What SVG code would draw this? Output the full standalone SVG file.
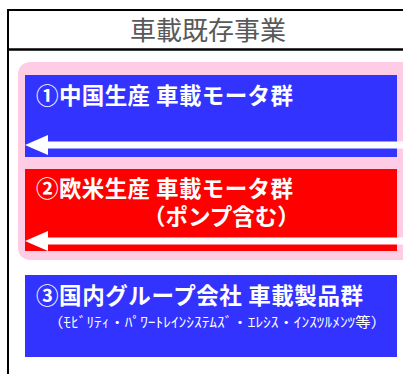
<svg xmlns="http://www.w3.org/2000/svg" width="403" height="374" viewBox="0 0 403 374">
<style>
.lbl{font-family:"Noto Sans CJK JP","Noto Sans",sans-serif;font-weight:bold;font-size:22.5px;fill:#FFFFFF}
.sub{font-family:"Noto Sans CJK JP","Noto Sans",sans-serif;font-size:14px;fill:#FFFFFF}
.title{font-family:"Noto Sans CJK JP","Noto Sans",sans-serif;font-size:26px;fill:#595959}
.arrow{stroke:#FFFFFF;stroke-width:7;fill:none}
</style>
<defs>
<marker id="ah" markerUnits="userSpaceOnUse" markerWidth="23" markerHeight="20" viewBox="0 0 23 20" refX="1" refY="10" orient="auto">
<path d="M0,0 L23,10 L0,20 z" fill="#FFFFFF"/>
</marker>
</defs>
<rect width="403" height="374" fill="#FFFFFF"/>
<g id="frame">
<rect x="8" y="10" width="420" height="380" fill="none" stroke="#000000" stroke-width="2"/>
<line x1="8" y1="49.5" x2="403" y2="49.5" stroke="#000000" stroke-width="2.5"/>
<text class="title" x="208" y="40" text-anchor="middle">車載既存事業</text>
</g>
<g id="group-existing">
<rect x="18" y="62" width="420" height="198" rx="12" ry="12" fill="#FFCCE5"/>
</g>
<g id="node1">
<rect x="25" y="75" width="372" height="82" fill="#3333FF"/>
<text class="lbl" x="36" y="104" textLength="257" lengthAdjust="spacing">①中国生産 車載モータ群</text>
</g>
<g id="node2">
<rect x="25" y="169" width="372" height="82" fill="#FF0000"/>
<text class="lbl" x="36" y="197" textLength="257" lengthAdjust="spacing">②欧米生産 車載モータ群</text>
<text class="lbl" x="143" y="225">（ポンプ含む）</text>
</g>
<g id="node3">
<rect x="25" y="275" width="372" height="82" fill="#3333FF"/>
<text class="lbl" x="36" y="304" textLength="327" lengthAdjust="spacing">③国内グループ会社 車載製品群</text>
<text class="sub" x="48" y="327" textLength="338" lengthAdjust="spacingAndGlyphs">（ﾓﾋﾞﾘﾃｨ・ﾊﾟﾜｰﾄﾚｲﾝｼｽﾃﾑｽﾞ・ｴﾚｼｽ・ｲﾝｽﾂﾙﾒﾝﾂ等）</text>
</g>
<g id="connectors">
<line class="arrow" x1="403" y1="145" x2="47" y2="145" marker-end="url(#ah)"/>
<line class="arrow" x1="403" y1="241" x2="47" y2="241" marker-end="url(#ah)"/>
</g>
</svg>
